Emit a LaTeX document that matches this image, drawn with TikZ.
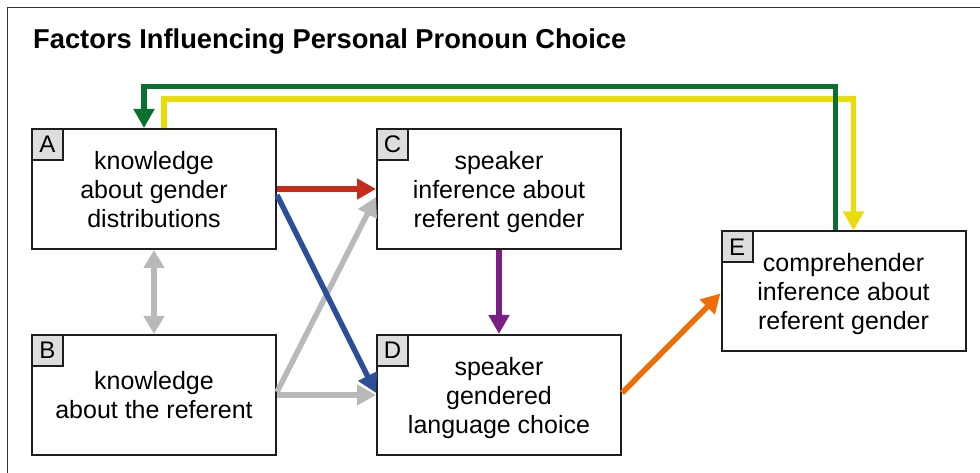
\documentclass[tikz,border=0pt]{standalone}
\usepackage{fontspec}
\setmainfont{Liberation Sans}
\usetikzlibrary{
  arrows.meta,
  positioning,
  calc
}
\definecolor{boxline}{RGB}{30,30,30}
\definecolor{framegray}{RGB}{50,50,50}
\definecolor{taggray}{RGB}{221,221,221}
\definecolor{arrred}{RGB}{198,43,28}
\definecolor{arrblue}{RGB}{43,79,152}
\definecolor{arrgray}{RGB}{185,185,185}
\definecolor{arrpurple}{RGB}{124,31,133}
\definecolor{arrorange}{RGB}{238,110,5}
\definecolor{arrgreen}{RGB}{10,112,48}
\definecolor{arryellow}{RGB}{232,220,10}

\begin{document}
\begin{tikzpicture}[
  x=1pt, y=1pt,
  box/.style={draw=boxline, line width=2pt, minimum width=244pt, minimum height=120pt, inner sep=0pt, text depth=0pt, align=center, font=\fontsize{25}{29}\selectfont},
  tag/.style={draw=boxline, fill=taggray, line width=2pt, minimum size=31pt, inner sep=0pt, anchor=north west, font=\fontsize{24}{24}\selectfont},
  arr/.style={-{Triangle[length=19pt,width=20pt]}, line width=5.5pt},
  dbl/.style={{Triangle[length=18pt,width=20pt]}-{Triangle[length=18pt,width=20pt]}, line width=5.5pt}
]
  \useasboundingbox (0,0) rectangle (980,473);
  % frame and title
  \draw[framegray, line width=1.5pt] (7.5,0) |- (980,465.7);
  \node[anchor=base west, inner sep=0pt, font=\bfseries\fontsize{27.3}{28}\selectfont] (title) at (33,424) {Factors Influencing Personal Pronoun Choice};

  % boxes
  \node[box] (A) at (154,284) {knowledge\\about gender\\distributions};
  \node[box] (B) at (154,78) {knowledge\\about the referent};
  \node[box] (C) at (499,284) {speaker\\inference about\\referent gender};
  \node[box] (D) at (499,78) {speaker\\gendered\\language choice};
  \node[box] (E) at (843.5,181.5) {comprehender\\inference about\\referent gender};
  \node[tag] (tA) at (A.north west) {A};
  \node[tag] (tB) at (B.north west) {B};
  \node[tag] (tC) at (C.north west) {C};
  \node[tag] (tD) at (D.north west) {D};
  \node[tag] (tE) at (E.north west) {E};

  % gray links
  \draw[dbl, arrgray] (A) -- (B);
  \draw[arr, arrgray] ([yshift=3pt]B.east) -- ([yshift=-8pt]C.west);
  \draw[arr, arrgray] (B) -- (D);
  % colored links
  \draw[arr, arrblue] ([yshift=-6pt]A.east) -- ([yshift=2pt]D.west);
  \draw[arr, arrred] (A) -- (C);
  \draw[arr, arrpurple] (C) -- (D);
  \draw[arr, arrorange] ([yshift=2pt]D.east) -- ([yshift=-2pt]E.west);

  % feedback loops over the top
  \coordinate (greentop) at (0,386.5);
  \coordinate (yellowtop) at (0,374);
  \coordinate (gA) at ([xshift=-10pt]A.north);
  \coordinate (gE) at ([xshift=-8pt]E.north);
  \coordinate (yA) at ([xshift=10pt]A.north);
  \coordinate (yE) at ([xshift=10pt]E.north);
  \draw[arr, arryellow] (yA) |- (yellowtop -| yE) -- (yE);
  \draw[arr, arrgreen] (gE) |- (greentop -| gA) -- (gA);
\end{tikzpicture}
\end{document}
